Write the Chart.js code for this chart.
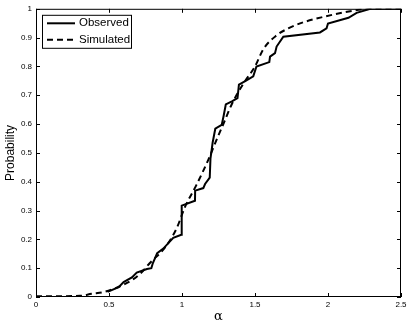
<!DOCTYPE html>
<html>
<head>
<meta charset="utf-8">
<script src="https://cdn.jsdelivr.net/npm/chart.js@4"></script>
<style>
  html, body { margin: 0; padding: 0; background: #fff; }
  #wrap { width: 411px; height: 326px; }
</style>
</head>
<body>
<div id="wrap"><canvas id="cdf"></canvas></div>
<script>
const obsAlpha = [0.49, 0.566, 0.60, 0.657, 0.69, 0.76, 0.79, 0.80, 0.83, 0.872, 0.94, 0.995, 0.998,
    1.089, 1.09, 1.146, 1.158, 1.19, 1.195, 1.21, 1.228, 1.272, 1.285, 1.30, 1.345, 1.38, 1.39,
    1.43, 1.488, 1.51, 1.598, 1.603, 1.637, 1.648, 1.694, 1.945, 1.99, 2.0, 2.14, 2.196, 2.29, 2.5];
const obsProb = [0.018, 0.034, 0.052, 0.068, 0.085, 0.097, 0.10, 0.117, 0.152, 0.168, 0.205, 0.216, 0.317,
    0.334, 0.369, 0.378, 0.392, 0.414, 0.48, 0.536, 0.584, 0.597, 0.628, 0.668, 0.68, 0.69, 0.737,
    0.748, 0.766, 0.80, 0.815, 0.834, 0.846, 0.869, 0.903, 0.918, 0.932, 0.949, 0.969, 0.986, 1.0, 1.0];

// Simulated CDF (smooth)
const simAlpha = [0, 0.2, 0.3, 0.38, 0.47, 0.6, 0.667, 0.724, 0.78, 0.884, 0.963, 1.02, 1.10, 1.18,
    1.238, 1.283, 1.34, 1.42, 1.5, 1.557, 1.648, 1.728, 1.83, 1.968, 2.105, 2.24, 2.32, 2.5];
const simProb = [0.003, 0.003, 0.004, 0.011, 0.018, 0.043, 0.062, 0.086, 0.118, 0.172, 0.238, 0.312, 0.39, 0.476,
    0.547, 0.6, 0.668, 0.74, 0.80, 0.86, 0.908, 0.932, 0.953, 0.972, 0.987, 0.998, 1.0, 1.0];

const xTicks = [0, 0.5, 1, 1.5, 2, 2.5];
const yTicks = [0, 0.1, 0.2, 0.3, 0.4, 0.5, 0.6, 0.7, 0.8, 0.9, 1];

const seriesLabels = ["Observed", "Simulated"];

const toPoints = (xs, ys) => xs.map((x, i) => ({ x, y: ys[i] }));

// matlab-style frame with inward ticks on all four sides
const framePlugin = {
    id: "frame",
    afterDraw(chart) {
        const { ctx, chartArea: a, scales } = chart;
        const len = 4;
        ctx.save();
        ctx.strokeStyle = "#000";
        ctx.lineWidth = 1;
        ctx.strokeRect(a.left + 0.5, a.top + 0.5, a.right - a.left - 1, a.bottom - a.top - 1);
        ctx.beginPath();
        xTicks.forEach(v => {
            const px = Math.round(scales.x.getPixelForValue(v)) + 0.5;
            ctx.moveTo(px, a.bottom); ctx.lineTo(px, a.bottom - len);
            ctx.moveTo(px, a.top); ctx.lineTo(px, a.top + len);
        });
        yTicks.forEach(v => {
            const py = Math.round(scales.y.getPixelForValue(v)) + 0.5;
            ctx.moveTo(a.left, py); ctx.lineTo(a.left + len, py);
            ctx.moveTo(a.right, py); ctx.lineTo(a.right - len, py);
        });
        ctx.stroke();
        ctx.restore();
    },
};

// boxed legend in the upper-left corner
const legendPlugin = {
    id: "boxLegend",
    afterDraw(chart) {
        const { ctx, chartArea: a } = chart;
        const x0 = a.left + 6, y0 = a.top + 6, w = 89, h = 33;
        ctx.save();
        ctx.fillStyle = "#fff";
        ctx.fillRect(x0, y0, w, h);
        ctx.strokeStyle = "#000";
        ctx.lineWidth = 1;
        ctx.strokeRect(x0 + 0.5, y0 + 0.5, w, h);
        ctx.font = "11.5px 'Liberation Sans', Arial, sans-serif";
        ctx.textBaseline = "middle";
        ctx.fillStyle = "#000";
        chart.data.datasets.forEach((ds, i) => {
            const yy = y0 + 8.5 + i * 16.5;
            ctx.beginPath();
            ctx.lineWidth = ds.borderWidth;
            ctx.setLineDash(ds.borderDash || []);
            ctx.moveTo(x0 + 5, yy);
            ctx.lineTo(x0 + 33, yy);
            ctx.stroke();
            ctx.setLineDash([]);
            ctx.fillText(ds.label, x0 + 37, yy);
        });
        ctx.restore();
    },
};

const tickFont = { family: "'Liberation Sans', Arial, sans-serif", size: 8 };
const plainNumber = v => String(v);

new Chart(document.getElementById("cdf"), {
    type: "line",
    data: {
        datasets: [{
            label: seriesLabels[0],
            data: toPoints(obsAlpha, obsProb),
            borderColor: "#000",
            borderWidth: 2,
            pointRadius: 0,
            tension: 0,
            fill: false,
        }, {
            label: seriesLabels[1],
            data: toPoints(simAlpha, simProb),
            borderColor: "#000",
            borderWidth: 2,
            borderDash: [6, 4],
            pointRadius: 0,
            cubicInterpolationMode: "monotone",
            fill: false,
        }],
    },
    options: {
        animation: false,
        events: [],
        responsive: true,
        maintainAspectRatio: false,
        layout: { padding: { top: 7, right: 10, bottom: 2, left: 0 } },
        scales: {
            x: {
                type: "linear",
                min: 0,
                max: 2.5,
                grid: { display: false, drawTicks: false },
                border: { display: false },
                afterBuildTicks: s => { s.ticks = xTicks.map(v => ({ value: v })); },
                afterFit: s => { s.height = 27; },
                ticks: { font: tickFont, color: "#000", padding: 3, maxRotation: 0, callback: plainNumber },
                title: {
                    display: true,
                    text: "α",
                    font: { family: "'DejaVu Serif', 'Liberation Serif', serif", size: 13 },
                    color: "#000",
                    padding: 0,
                },
            },
            y: {
                type: "linear",
                min: 0,
                max: 1,
                grid: { display: false, drawTicks: false },
                border: { display: false },
                afterBuildTicks: s => { s.ticks = yTicks.map(v => ({ value: v })); },
                afterFit: s => { s.width = 36; },
                ticks: { font: tickFont, color: "#000", padding: 4, callback: plainNumber },
                title: {
                    display: true,
                    text: "Probability",
                    font: { family: "'Liberation Sans', Arial, sans-serif", size: 12 },
                    color: "#000",
                    padding: { top: 3, bottom: 0 },
                },
            },
        },
        plugins: {
            legend: { display: false },
            tooltip: { enabled: false },
        },
    },
    plugins: [framePlugin, legendPlugin],
});
</script>
</body>
</html>
